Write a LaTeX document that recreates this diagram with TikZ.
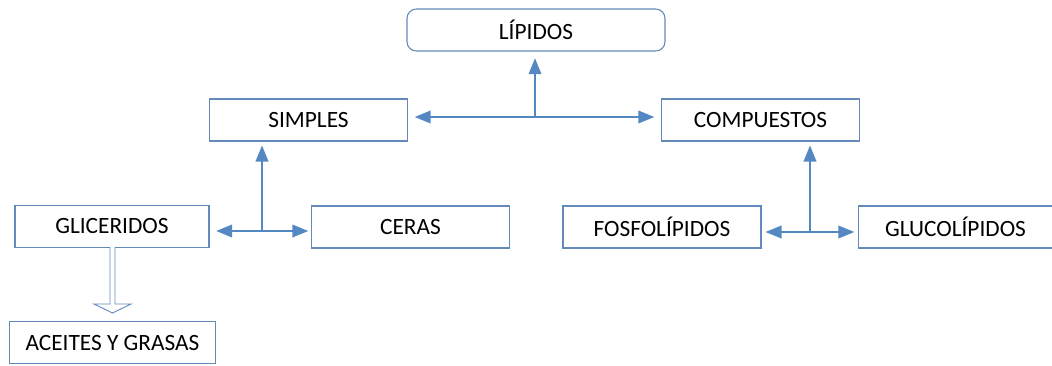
\documentclass[tikz,border=0pt]{standalone}
\usepackage{fontspec}
\setmainfont{Carlito}
\usetikzlibrary{arrows.meta}
\definecolor{boxc}{RGB}{100,138,188}
\definecolor{arrc}{RGB}{84,136,194}
\begin{document}
\begin{tikzpicture}[x=0.75pt,y=-0.75pt,
  box/.style={draw=boxc,line width=0.8pt,fill=white,minimum width=148.5pt,minimum height=31.5pt,inner sep=0pt,font=\fontsize{17.5}{20}\selectfont},
  conn/.style={draw=arrc,line width=1.2pt},
  tip/.style={-{Triangle[length=12pt,width=9.5pt]}}]
\useasboundingbox (0,0) rectangle (1052,365);
\node[box,rounded corners=7pt,minimum width=193.5pt] (lip) at (536,30) {LÍPIDOS};
\node[box] (sim) at (308.5,120) {SIMPLES};
\node[box] (com) at (760.5,120) {COMPUESTOS};
\node[box,minimum width=145.5pt] (gli) at (112,226.5) {GLICERIDOS};
\node[box] (cer) at (410.5,227) {CERAS};
\node[box] (fos) at (662,227) {FOSFOLÍPIDOS};
\node[box,minimum width=145pt] (glu) at (955.5,227) {GLUCOLÍPIDOS};
\node[box,minimum width=155pt,minimum height=32pt] (ace) at (112.5,342.5) {ACEITES Y GRASAS};
% top junction
\coordinate (j1) at (535,117);
\draw[conn,tip] (j1) -- ([yshift=-5pt]lip.south -| j1);
\draw[conn,tip] (j1) -- ([xshift=5pt]sim.east |- j1);
\draw[conn,tip] (j1) -- ([xshift=-5pt]com.west |- j1);
% simples junction
\coordinate (j2) at (262,231);
\draw[conn,tip] (j2) -- ([yshift=-3pt]sim.south -| j2);
\draw[conn,tip] (j2) -- ([xshift=5pt]gli.east |- j2);
\draw[conn,tip] (j2) -- ([xshift=-2pt]cer.west |- j2);
% compuestos junction
\coordinate (j3) at (810,232);
\draw[conn,tip] (j3) -- ([yshift=-3pt]com.south -| j3);
\draw[conn,tip] (j3) -- ([xshift=3pt]fos.east |- j3);
\draw[conn,tip] (j3) -- ([xshift=-3pt]glu.west |- j3);
% hollow block arrow
\draw[draw=boxc,line width=0.7pt,fill=white,line join=miter]
  (110,247) -- (110,304) -- (94,304) -- (112.5,313) -- (131,304) -- (115,304) -- (115,247);
\end{tikzpicture}
\end{document}
